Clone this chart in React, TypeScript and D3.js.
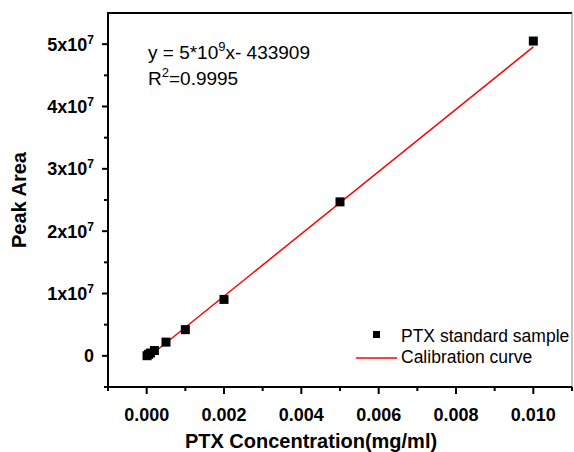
import React from "react";
import * as d3 from "d3";

const concentrations = [0.00001, 0.00005, 0.0001, 0.0002, 0.0005, 0.001, 0.002, 0.005, 0.01];
const peakAreas = [0.02e6, 0.25e6, 0.45e6, 0.85e6, 2.2e6, 4.2e6, 9.05e6, 2.47e7, 5.05e7];
const slope = 5e9;
const intercept = -433909;
const fitRange = [0, 0.01];
const xTicks = [0, 0.002, 0.004, 0.006, 0.008, 0.01];
const xMinorTicks = [-0.001, 0.001, 0.003, 0.005, 0.007, 0.009, 0.011];
const yTicks = [0, 1e7, 2e7, 3e7, 4e7, 5e7];
const yMinorTicks = [-5e6, 5e6, 1.5e7, 2.5e7, 3.5e7, 4.5e7];

const W = 574, H = 452;
const M = { left: 108, right: 572, top: 13, bottom: 387 };
const FONT = "Arial, 'Liberation Sans', sans-serif";

export default function App() {
  const x = d3.scaleLinear().domain([-0.001, 0.011]).range([M.left, M.right]);
  const y = d3.scaleLinear().domain([-5e6, 5.5e7]).range([M.bottom, M.top]);
  const line = d3.line<number>().x((d) => x(d)).y((d) => y(slope * d + intercept));

  return (
    <svg width={W} height={H} style={{ position: "absolute", left: 0, top: 0, background: "#fff" }} fontFamily={FONT}>
      <rect width={W} height={H} fill="#fff" />
      {/* frame */}
      <line x1={M.left} x2={M.right} y1={M.top} y2={M.top} stroke="#000" strokeWidth={2} />
      <line x1={M.right} x2={M.right} y1={M.top} y2={M.bottom} stroke="#888" strokeWidth={1} />
      <line x1={M.left} x2={M.left} y1={M.top - 1} y2={M.bottom + 1} stroke="#000" strokeWidth={2} />
      <line x1={M.left - 1} x2={M.right} y1={M.bottom} y2={M.bottom} stroke="#000" strokeWidth={2} />
      {/* y ticks */}
      {yTicks.map((t) => (
        <g key={"y" + t}>
          <line x1={M.left - 6} x2={M.left} y1={y(t)} y2={y(t)} stroke="#000" strokeWidth={2} />
          <text x={M.left - 14} y={y(t) + 6.5} textAnchor="end" fontSize={18} fontWeight="bold">
            {t === 0 ? "0" : (
              <>
                {`${t / 1e7}x10`}
                <tspan dy={-7} fontSize={12}>7</tspan>
              </>
            )}
          </text>
        </g>
      ))}
      {yMinorTicks.map((t) => (
        <line key={"ym" + t} x1={M.left - 4} x2={M.left} y1={y(t)} y2={y(t)} stroke="#000" strokeWidth={2} />
      ))}
      {/* x ticks */}
      {xTicks.map((t) => (
        <g key={"x" + t}>
          <line x1={x(t)} x2={x(t)} y1={M.bottom} y2={M.bottom + 7} stroke="#000" strokeWidth={2} />
          <text x={x(t)} y={M.bottom + 34} textAnchor="middle" fontSize={18} fontWeight="bold">
            {t.toFixed(3)}
          </text>
        </g>
      ))}
      {xMinorTicks.map((t) => (
        <line key={"xm" + t} x1={x(t)} x2={x(t)} y1={M.bottom} y2={M.bottom + 4} stroke="#000" strokeWidth={2} />
      ))}
      {/* axis titles */}
      <text x={311} y={448} textAnchor="middle" fontSize={20} fontWeight="bold">PTX Concentration(mg/ml)</text>
      <text transform={`translate(26,${(M.top + M.bottom) / 2}) rotate(-90)`} textAnchor="middle" fontSize={20} fontWeight="bold">Peak Area</text>
      {/* fit line */}
      <path d={line(fitRange) || ""} stroke="#ff0000" strokeWidth={1.5} fill="none" />
      {/* points */}
      {concentrations.map((c, i) => (
        <rect key={i} x={x(c) - 4.5} y={y(peakAreas[i]) - 4.5} width={9} height={9} fill="#000" />
      ))}
      {/* equation */}
      <text x={148} y={59} fontSize={19}>
        y = 5*10<tspan dy={-8} fontSize={13}>9</tspan><tspan dy={8}>x- 433909</tspan>
      </text>
      <text x={148} y={85} fontSize={19}>
        R<tspan dy={-8} fontSize={13}>2</tspan><tspan dy={8}>=0.9995</tspan>
      </text>
      {/* legend */}
      <rect x={373} y={331} width={7} height={7} fill="#000" />
      <text x={401} y={342} fontSize={17.5}>PTX standard sample</text>
      <line x1={356} x2={397} y1={358} y2={358} stroke="#ff0000" strokeWidth={1.5} />
      <text x={401} y={363} fontSize={17.5}>Calibration curve</text>
    </svg>
  );
}
